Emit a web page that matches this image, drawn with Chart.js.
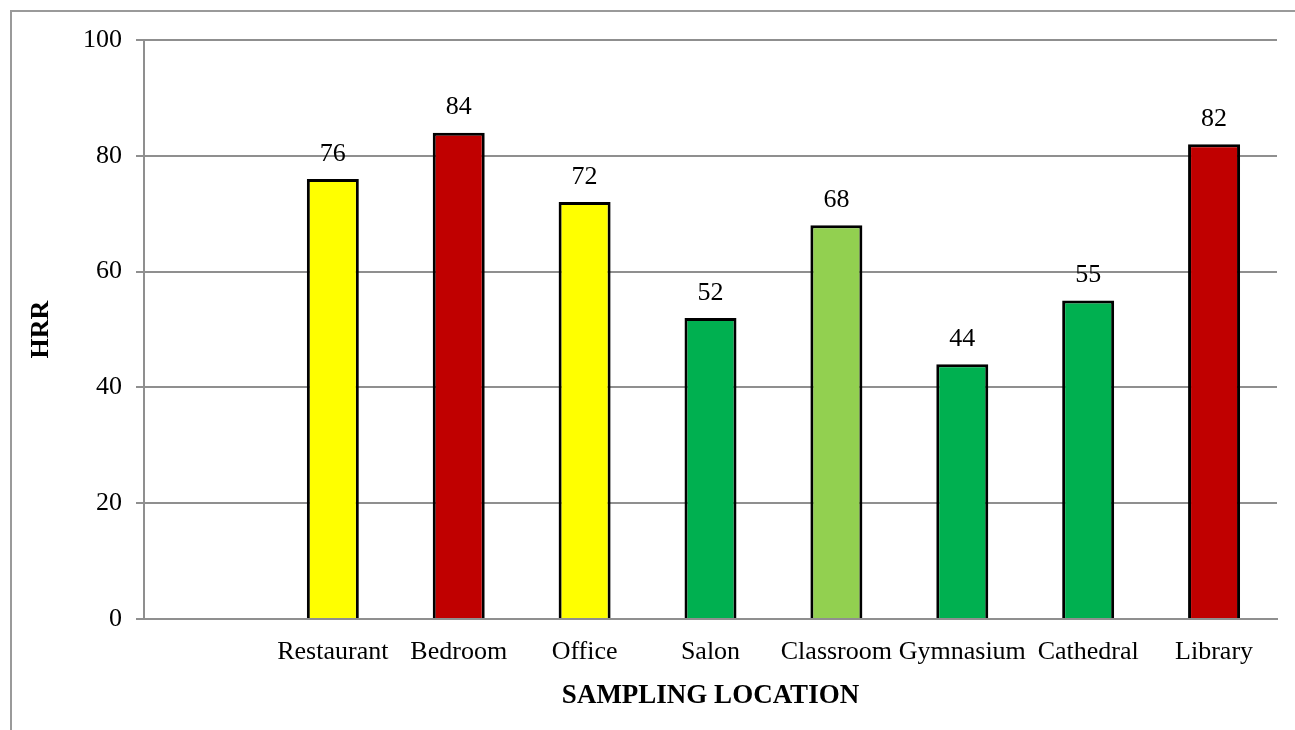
<!DOCTYPE html>
<html>
<head>
<meta charset="utf-8">
<script src="https://cdn.jsdelivr.net/npm/chart.js@4"></script>
<style>
  html, body { margin: 0; padding: 0; background: #fff; }
  #wrap { width: 1295px; height: 730px; position: relative; }
</style>
</head>
<body>
<div id="wrap"><canvas id="hrr-chart" width="1295" height="730"></canvas></div>
<script>
// data
const locations = ["", "Restaurant", "Bedroom", "Office", "Salon", "Classroom", "Gymnasium", "Cathedral", "Library"];
const hrrValues = [null, 76, 84, 72, 52, 68, 44, 55, 82];
const barColors = ["#ffffff", "#ffff00", "#c00000", "#ffff00", "#00b050", "#92d050", "#00b050", "#00b050", "#c00000"];
const yTicks = [0, 20, 40, 60, 80, 100];

const FONT = "'Liberation Serif', 'Times New Roman', serif";
const GRID = "#8f8f8f";

// outer frame (left + top edge only, like the source image)
const framePlugin = {
  id: "frame",
  beforeDraw(chart) {
    const { ctx, width, height } = chart;
    ctx.save();
    ctx.strokeStyle = "#9a9a9a";
    ctx.lineWidth = 2;
    ctx.beginPath();
    ctx.moveTo(11, height);
    ctx.lineTo(11, 11);
    ctx.lineTo(width, 11);
    ctx.stroke();
    ctx.restore();
  },
};

// value labels above bars
const valueLabels = {
  id: "valueLabels",
  afterDatasetsDraw(chart) {
    const { ctx } = chart;
    const meta = chart.getDatasetMeta(0);
    ctx.save();
    ctx.font = "26px " + FONT;
    ctx.fillStyle = "#000";
    ctx.textAlign = "center";
    ctx.textBaseline = "middle";
    meta.data.forEach((bar, i) => {
      const v = hrrValues[i];
      if (v == null) return;
      ctx.fillText(String(v), bar.x, bar.y - 25);
    });
    ctx.restore();
  },
};

new Chart(document.getElementById("hrr-chart"), {
  type: "bar",
  data: {
    labels: locations,
    datasets: [
      {
        data: hrrValues,
        backgroundColor: barColors,
        borderColor: "#000",
        borderWidth: 3,
        borderSkipped: "start",
        categoryPercentage: 1,
        barPercentage: 0.413,
      },
    ],
  },
  options: {
    responsive: false,
    animation: false,
    layout: { padding: { top: 40, right: 18, bottom: 0, left: 0 } },
    plugins: {
      legend: { display: false },
      tooltip: { enabled: false },
    },
    scales: {
      x: {
        grid: { display: false, drawTicks: false },
        border: { display: true, color: GRID, width: 2 },
        ticks: {
          color: "#000",
          font: { family: FONT, size: 26 },
          padding: 18,
          maxRotation: 0,
          autoSkip: false,
        },
        title: {
          display: true,
          text: "SAMPLING LOCATION",
          color: "#000",
          font: { family: FONT, size: 27, weight: "bold" },
          padding: { top: 4, bottom: 18 },
        },
        afterFit(scale) {
          scale.height = 111;
        },
      },
      y: {
        min: 0,
        max: 100,
        afterBuildTicks(scale) {
          scale.ticks = yTicks.map((v) => ({ value: v }));
        },
        grid: {
          color: GRID,
          lineWidth: 2,
          tickLength: 8,
          drawTicks: true,
        },
        border: { display: true, color: GRID, width: 2 },
        ticks: {
          color: "#000",
          font: { family: FONT, size: 26 },
          padding: 14,
        },
        title: {
          display: true,
          text: "HRR",
          color: "#000",
          font: { family: FONT, size: 26, weight: "bold" },
          padding: { top: 26, bottom: 0 },
        },
        afterFit(scale) {
          scale.width = 144;
        },
      },
    },
  },
  plugins: [framePlugin, valueLabels],
});
</script>
</body>
</html>
